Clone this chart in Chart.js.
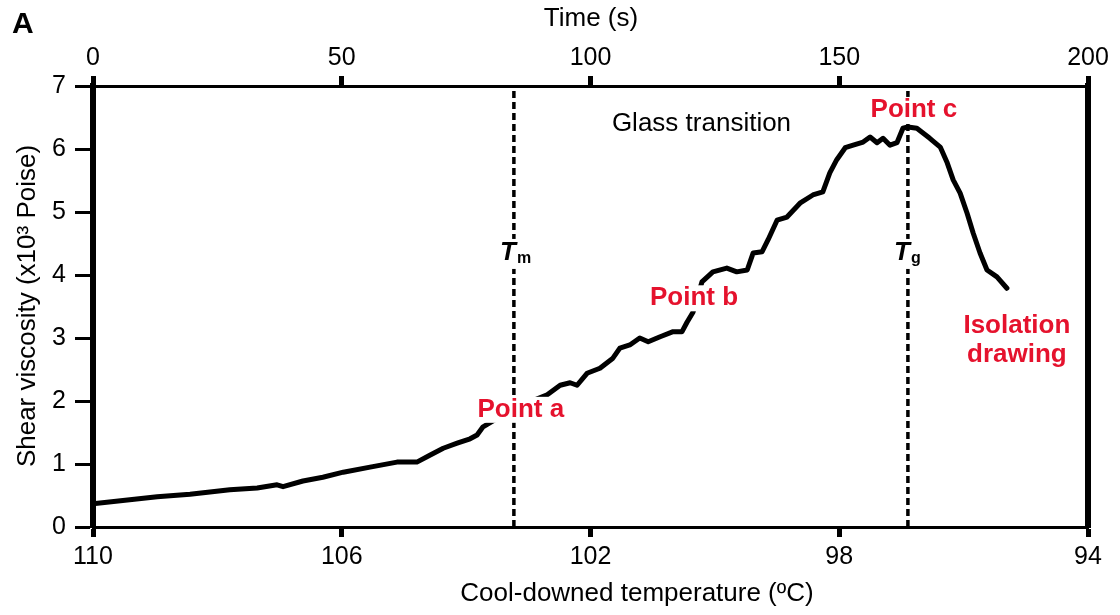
<!DOCTYPE html>
<html>
<head>
<meta charset="utf-8">
<script src="https://cdn.jsdelivr.net/npm/chart.js@4.4.1/dist/chart.umd.min.js"></script>
<style>
    body { margin: 0; background: #ffffff; }
    canvas { display: block; }
</style>
</head>
<body>
<canvas id="chartViscosidad" width="1120" height="615"></canvas>
<script>
// ===== Shear viscosity vs time / cool-downed temperature =====

// tiempo (s) y viscosidad (x10^3 Poise)
const timeSec = [
    0, 12.9, 19.5, 27.5, 33.0, 37.0, 38.2, 42.2, 46.2, 50.3, 55.7, 61.1,
    65.1, 67.7, 70.4, 73.2, 75.8, 77.2, 78.4,
    84.8, 91.3, 93.9, 95.9, 97.3, 99.3, 101.9, 104.5, 105.9, 107.9, 109.9,
    111.6, 114.0, 116.6, 118.4, 119.4, 120.6, 122.4, 124.6, 127.4, 129.4,
    131.5, 132.7, 134.5, 135.7, 137.5, 139.5, 142.1, 144.7, 146.7, 148.1,
    149.5, 151.2, 152.8, 154.8, 156.2, 157.6, 158.8, 160.2, 161.6, 162.8,
    163.8, 165.6, 168.2, 170.3, 171.7, 172.9, 174.3, 175.7, 176.9, 178.3,
    179.7, 181.7, 183.7
];
const viscosity = [
    0.37, 0.48, 0.52, 0.59, 0.62, 0.67, 0.64, 0.73, 0.79, 0.87, 0.95, 1.03,
    1.03, 1.14, 1.25, 1.33, 1.40, 1.46, 1.59,
    1.89, 2.10, 2.25, 2.29, 2.25, 2.44, 2.52, 2.68, 2.84, 2.89, 3.00,
    2.94, 3.02, 3.10, 3.10, 3.25, 3.41, 3.89, 4.05, 4.11, 4.05,
    4.08, 4.35, 4.37, 4.56, 4.87, 4.92, 5.14, 5.27, 5.32, 5.62,
    5.83, 6.02, 6.06, 6.11, 6.19, 6.10, 6.17, 6.06, 6.10, 6.33,
    6.35, 6.33, 6.17, 6.03, 5.78, 5.51, 5.30, 4.98, 4.67, 4.35,
    4.08, 3.97, 3.79
];

// lineas verticales Tm y Tg (tiempo, s)
const tmTime = 84.6;
const tgTime = 163.8;

// etiquetas de los ejes
const timeTicks = [0, 50, 100, 150, 200];
const tempTicks = [110, 106, 102, 98, 94];
const viscTicks = [0, 1, 2, 3, 4, 5, 6, 7];

const FAMILY = '"Liberation Sans", Arial, Helvetica, sans-serif';
const ROJO = '#e5122d';

// anotaciones (coordenadas en unidades de datos)
const notas = [
    { text: 'Point a', x: 86.0, y: 1.86, red: true },
    { text: 'Point b', x: 120.8, y: 3.63, red: true },
    { text: 'Point c', x: 165.0, y: 6.62, red: true },
    { text: 'Isolation', x: 185.7, y: 3.19, red: true },
    { text: 'drawing', x: 185.7, y: 2.73, red: true }
];

function fijarTicks(valores) {
    return function(scale) {
        scale.ticks = valores.map(v => ({ value: v }));
    };
}

const textosPlugin = {
    id: 'textos',
    afterDraw(chart) {
        const ctx = chart.ctx;
        const sx = chart.scales.x;
        const sy = chart.scales.y;
        ctx.save();
        ctx.textBaseline = 'middle';
        ctx.fillStyle = '#000';

        // letra del panel
        ctx.font = 'bold 30px ' + FAMILY;
        ctx.textAlign = 'left';
        ctx.fillText('A', 12, 25);

        // titulos de ejes
        ctx.font = '26px ' + FAMILY;
        ctx.textAlign = 'center';
        ctx.fillText('Time (s)', 591, 19);
        ctx.fillText('Cool-downed temperature (\u00baC)', 637, 594);
        ctx.save();
        ctx.translate(28, 306);
        ctx.rotate(-Math.PI / 2);
        ctx.fillText('Shear viscosity (x10\u00b3 Poise)', 0, 0);
        ctx.restore();

        // Glass transition
        ctx.textAlign = 'left';
        ctx.fillText('Glass transition', sx.getPixelForValue(104.3), sy.getPixelForValue(6.40));

        // Tm y Tg
        [[tmTime, 'm'], [tgTime, 'g']].forEach(function(par) {
            const px = sx.getPixelForValue(par[0]);
            const py = sy.getPixelForValue(4.35);
            ctx.fillStyle = '#fff';
            ctx.fillRect(px - 17, py - 14, 34, 30);
            ctx.fillStyle = '#000';
            ctx.font = 'italic bold 26px ' + FAMILY;
            ctx.textAlign = 'right';
            ctx.fillText('T', px + 2, py);
            ctx.font = 'bold 16px ' + FAMILY;
            ctx.textAlign = 'left';
            ctx.fillText(par[1], px + 3, py + 6);
        });

        // etiquetas rojas
        ctx.font = 'bold 26px ' + FAMILY;
        ctx.textAlign = 'center';
        notas.forEach(function(n) {
            const px = sx.getPixelForValue(n.x);
            const py = sy.getPixelForValue(n.y);
            const w = ctx.measureText(n.text).width;
            ctx.fillStyle = '#fff';
            ctx.fillRect(px - w / 2 - 3, py - 13, w + 6, 26);
            ctx.fillStyle = n.red ? ROJO : '#000';
            ctx.fillText(n.text, px, py);
        });
        ctx.restore();
    }
};

function lineaVertical(t) {
    return {
        data: [{ x: t, y: 0 }, { x: t, y: 7 }],
        borderColor: '#000',
        borderWidth: 3.5,
        borderDash: [7, 4],
        borderCapStyle: 'butt',
        pointRadius: 0,
        xAxisID: 'x',
        yAxisID: 'y'
    };
}

document.addEventListener('DOMContentLoaded', function() {
    const ctx = document.getElementById('chartViscosidad');
    const fuenteTicks = { family: FAMILY, size: 25 };

    new Chart(ctx, {
        type: 'line',
        data: {
            datasets: [
                {
                    data: timeSec.map((t, i) => ({ x: t, y: viscosity[i] })),
                    borderColor: '#000',
                    borderWidth: 5,
                    borderJoinStyle: 'round',
                    borderCapStyle: 'round',
                    pointRadius: 0,
                    tension: 0,
                    xAxisID: 'x',
                    yAxisID: 'y'
                },
                lineaVertical(tmTime),
                lineaVertical(tgTime)
            ]
        },
        options: {
            responsive: false,
            animation: false,
            layout: { padding: 0 },
            plugins: {
                legend: { display: false },
                tooltip: { enabled: false }
            },
            scales: {
                x: {
                    type: 'linear',
                    position: 'top',
                    min: 0,
                    max: 200,
                    afterBuildTicks: fijarTicks(timeTicks),
                    afterFit(s) { s.height = 86; },
                    ticks: { font: fuenteTicks, color: '#000', padding: 3, autoSkip: false, maxRotation: 0 },
                    grid: { drawOnChartArea: false, drawTicks: true, tickLength: 10, tickWidth: 5, color: '#000' },
                    border: { display: true, color: '#000', width: 3 }
                },
                xTemp: {
                    type: 'linear',
                    position: 'bottom',
                    min: 94,
                    max: 110,
                    reverse: true,
                    afterBuildTicks: fijarTicks(tempTicks),
                    afterFit(s) { s.height = 88; },
                    ticks: { font: fuenteTicks, color: '#000', padding: 5, autoSkip: false, maxRotation: 0 },
                    grid: { drawOnChartArea: false, drawTicks: true, tickLength: 10, tickWidth: 5, color: '#000' },
                    border: { display: true, color: '#000', width: 3 }
                },
                y: {
                    type: 'linear',
                    position: 'left',
                    min: 0,
                    max: 7,
                    afterBuildTicks: fijarTicks(viscTicks),
                    afterFit(s) { s.width = 93; },
                    ticks: { font: fuenteTicks, color: '#000', padding: 9 },
                    grid: { drawOnChartArea: false, drawTicks: true, tickLength: 18, tickWidth: 3, color: '#000' },
                    border: { display: true, color: '#000', width: 6 }
                },
                yDer: {
                    type: 'linear',
                    position: 'right',
                    min: 0,
                    max: 7,
                    afterFit(s) { s.width = 32; },
                    ticks: { display: false },
                    grid: { drawOnChartArea: false, drawTicks: false },
                    border: { display: true, color: '#000', width: 6 }
                }
            }
        },
        plugins: [textosPlugin]
    });
});
</script>
</body>
</html>
